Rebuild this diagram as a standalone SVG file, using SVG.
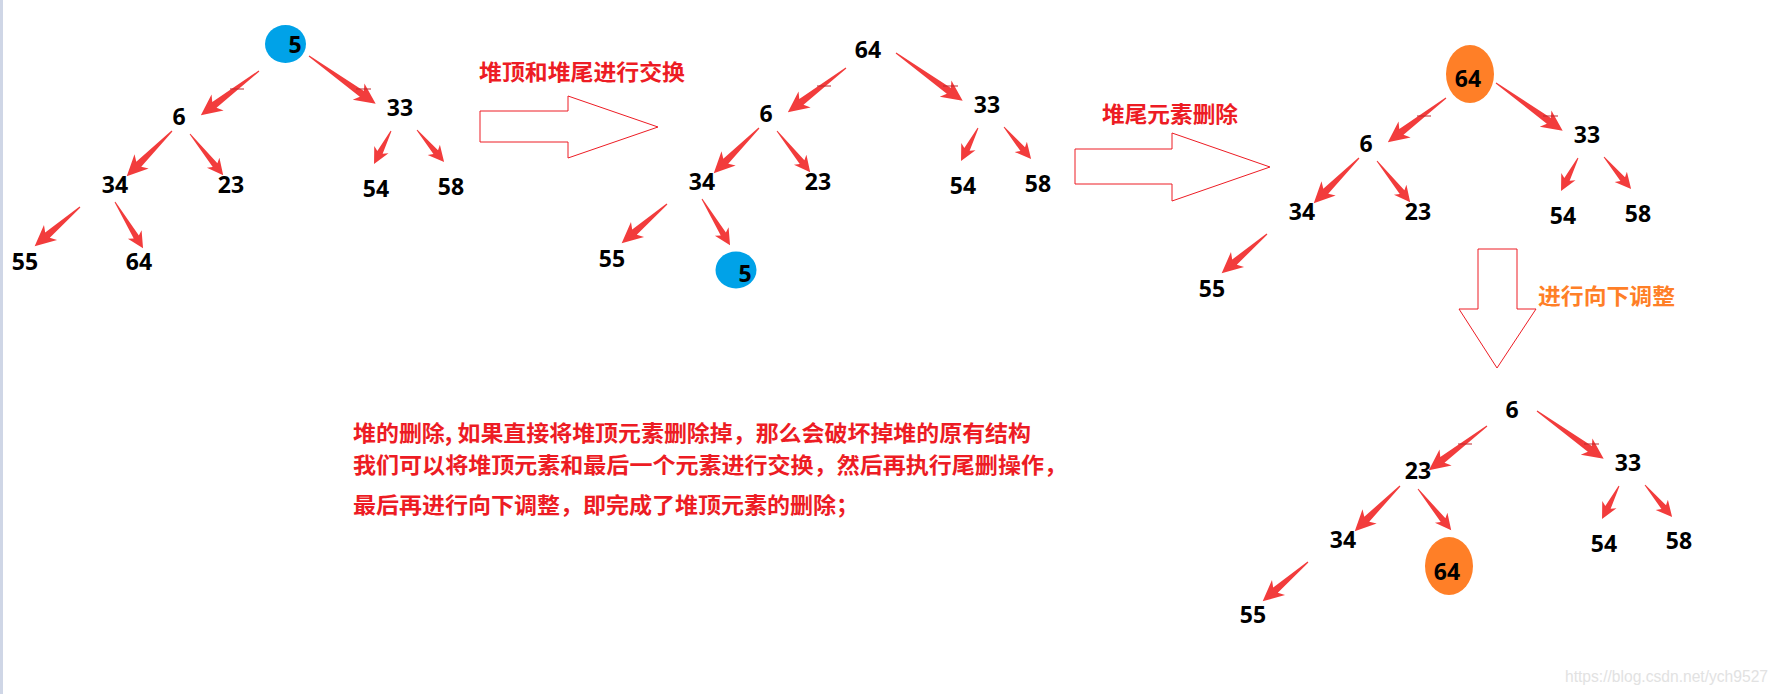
<svg xmlns="http://www.w3.org/2000/svg" xmlns:xlink="http://www.w3.org/1999/xlink" width="1779" height="694" viewBox="0 0 1779 694">
<style>
.num{font-family:"Noto Sans","Liberation Sans",sans-serif;font-weight:700;font-size:23px;fill:#000;text-anchor:middle}
.lbl{font-family:"Noto Sans CJK SC","Noto Sans CJK JP",sans-serif;font-weight:700;font-size:22px;fill:#ed1c24}
.desc{font-family:"Noto Sans CJK SC","Noto Sans CJK JP",sans-serif;font-weight:700;font-size:22px;fill:#ed1c24}
.arr{fill:#f23c3c}
.hol{fill:#fff;stroke:#ed1c24;stroke-width:1}
.dsh{stroke:#c0282c;stroke-width:1.2;fill:none}
.blue{fill:#00a2e8}
.orange{fill:#ff7f27}
</style>
<defs>
<path id="a1" class="arr" transform="translate(846,68) rotate(142.8)" d="M0,-.6L56,-3.5L52,-10L73,0L52,10L56,3.5L0,.6Z"/>
<path id="a2" class="arr" transform="translate(896,53) rotate(35.6)" d="M0,-.6L65,-3.5L61,-10L82,0L61,10L65,3.5L0,.6Z"/>
<path id="a3" class="arr" transform="translate(759,128) rotate(135)" d="M0,-.6L47,-3.5L43,-10L64,0L43,10L47,3.5L0,.6Z"/>
<path id="a4" class="arr" transform="translate(777,131) rotate(51.2)" d="M0,-.5L40,-3L37,-8L53,0L37,8L40,3L0,.5Z"/>
<path id="a5" class="arr" transform="translate(978,128) rotate(117.3)" d="M0,-.5L24,-3L21,-8L37,0L21,8L24,3L0,.5Z"/>
<path id="a6" class="arr" transform="translate(1004,127) rotate(49.8)" d="M0,-.5L29,-3L26,-8L42,0L26,8L29,3L0,.5Z"/>
<path id="a7" class="arr" transform="translate(667,204) rotate(139.1)" d="M0,-.6L43,-3.5L39,-10L60,0L39,10L43,3.5L0,.6Z"/>
<path id="a8" class="arr" transform="translate(702,199) rotate(58.7)" d="M0,-.5L41,-3L38,-8L54,0L38,8L41,3L0,.5Z"/>
<path id="dsh" class="dsh" d="M817,86h14M943,86h15"/>
</defs>
<rect x="0" y="0" width="1779" height="694" fill="#fff"/>
<rect x="0" y="0" width="3" height="694" fill="#cfd6e6"/>

<!-- connectors -->
<g id="connectors">
  <g id="tree1-edges" transform="translate(-587,3)">
    <use href="#a1"/><use href="#a2"/><use href="#a3"/><use href="#a4"/>
    <use href="#a5"/><use href="#a6"/><use href="#a7"/><use href="#a8"/>
    <use href="#dsh"/>
  </g>
  <g id="tree2-edges">
    <use href="#a1"/><use href="#a2"/><use href="#a3"/><use href="#a4"/>
    <use href="#a5"/><use href="#a6"/><use href="#a7"/><use href="#a8"/>
    <use href="#dsh"/>
  </g>
  <g id="tree3-edges" transform="translate(600,30)">
    <use href="#a1"/><use href="#a2"/><use href="#a3"/><use href="#a4"/>
    <use href="#a5"/><use href="#a6"/><use href="#a7"/>
    <use href="#dsh"/>
  </g>
  <g id="tree4-edges" transform="translate(641,358)">
    <use href="#a1"/><use href="#a2"/><use href="#a3"/><use href="#a4"/>
    <use href="#a5"/><use href="#a6"/><use href="#a7"/>
    <use href="#dsh"/>
  </g>
  <polygon id="step1-arrow" class="hol" points="480,111 568,111 568,96 658,127 568,158 568,142 480,142"/>
  <polygon id="step2-arrow" class="hol" points="1075,149 1172,149 1172,133 1270,167 1172,201 1172,184 1075,184"/>
  <polygon id="step3-arrow" class="hol" points="1478,249 1517,249 1517,309 1536,309 1497,368 1459,309 1478,309"/>
</g>

<!-- tree 1 -->
<g id="t1-5"><ellipse class="blue" cx="285.5" cy="44" rx="20.5" ry="19"/><text class="num" x="295" y="53">5</text></g>
<g id="t1-6"><text class="num" x="179" y="125">6</text></g>
<g id="t1-33"><text class="num" x="400" y="116">33</text></g>
<g id="t1-34"><text class="num" x="115" y="193">34</text></g>
<g id="t1-23"><text class="num" x="231" y="193">23</text></g>
<g id="t1-54"><text class="num" x="376" y="197">54</text></g>
<g id="t1-58"><text class="num" x="451" y="195">58</text></g>
<g id="t1-55"><text class="num" x="25" y="270">55</text></g>
<g id="t1-64"><text class="num" x="139" y="270">64</text></g>

<!-- tree 2 -->
<g id="t2-64"><text class="num" x="868" y="58">64</text></g>
<g id="t2-6"><text class="num" x="766" y="122">6</text></g>
<g id="t2-33"><text class="num" x="987" y="113">33</text></g>
<g id="t2-34"><text class="num" x="702" y="190">34</text></g>
<g id="t2-23"><text class="num" x="818" y="190">23</text></g>
<g id="t2-54"><text class="num" x="963" y="194">54</text></g>
<g id="t2-58"><text class="num" x="1038" y="192">58</text></g>
<g id="t2-55"><text class="num" x="612" y="267">55</text></g>
<g id="t2-5"><ellipse class="blue" cx="736" cy="270" rx="20.5" ry="18.5"/><text class="num" x="745" y="282">5</text></g>

<!-- tree 3 -->
<g id="t3-64"><ellipse class="orange" cx="1470" cy="74" rx="24" ry="29"/><text class="num" x="1468" y="87">64</text></g>
<g id="t3-6"><text class="num" x="1366" y="152">6</text></g>
<g id="t3-33"><text class="num" x="1587" y="143">33</text></g>
<g id="t3-34"><text class="num" x="1302" y="220">34</text></g>
<g id="t3-23"><text class="num" x="1418" y="220">23</text></g>
<g id="t3-54"><text class="num" x="1563" y="224">54</text></g>
<g id="t3-58"><text class="num" x="1638" y="222">58</text></g>
<g id="t3-55"><text class="num" x="1212" y="297">55</text></g>

<!-- tree 4 -->
<g id="t4-6"><text class="num" x="1512" y="418">6</text></g>
<g id="t4-23"><text class="num" x="1418" y="479">23</text></g>
<g id="t4-33"><text class="num" x="1628" y="471">33</text></g>
<g id="t4-34"><text class="num" x="1343" y="548">34</text></g>
<g id="t4-54"><text class="num" x="1604" y="552">54</text></g>
<g id="t4-58"><text class="num" x="1679" y="549">58</text></g>
<g id="t4-55"><text class="num" x="1253" y="623">55</text></g>
<g id="t4-64"><ellipse class="orange" cx="1449" cy="566" rx="24" ry="29"/><text class="num" x="1447" y="580">64</text></g>

<!-- labels -->
<text class="lbl" x="479" y="80" textLength="206" lengthAdjust="spacingAndGlyphs">堆顶和堆尾进行交换</text>
<text class="lbl" x="1102" y="122" textLength="136" lengthAdjust="spacingAndGlyphs">堆尾元素删除</text>
<text class="lbl" x="1538" y="304" textLength="137" lengthAdjust="spacingAndGlyphs" style="fill:#ff7f27">进行向下调整</text>

<g id="description">
<text class="desc" x="353" y="441" textLength="678" lengthAdjust="spacingAndGlyphs">堆的删除, 如果直接将堆顶元素删除掉，那么会破坏掉堆的原有结构</text>
<text class="desc" x="353" y="473" textLength="714" lengthAdjust="spacingAndGlyphs">我们可以将堆顶元素和最后一个元素进行交换，然后再执行尾删操作，</text>
<text class="desc" x="353" y="513" textLength="506" lengthAdjust="spacingAndGlyphs">最后再进行向下调整，即完成了堆顶元素的删除；</text>
</g>

<text x="1565" y="682" textLength="203" lengthAdjust="spacingAndGlyphs" style="font-family:'Liberation Sans',Arial,sans-serif;font-size:15.6px;fill:#e2e2e2">https://blog.csdn.net/ych9527</text>
</svg>
